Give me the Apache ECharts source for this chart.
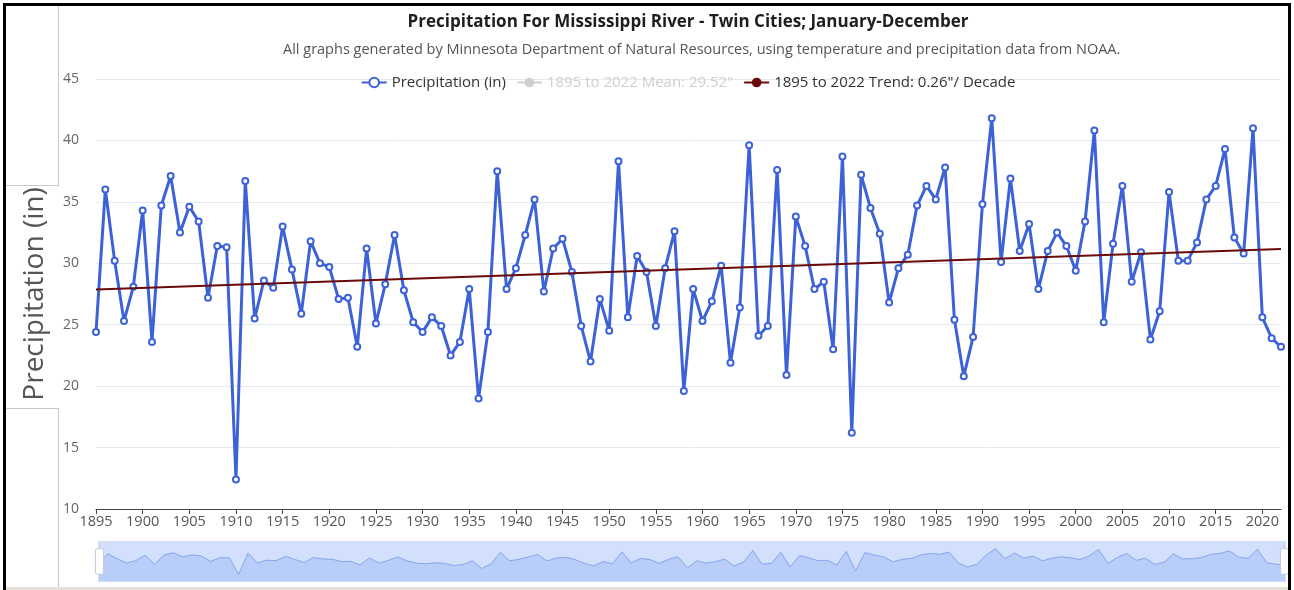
<!DOCTYPE html>
<html>
<head>
<meta charset="utf-8">
<script src="https://cdn.jsdelivr.net/npm/echarts@6/dist/echarts.min.js"></script>
<style>
html, body { margin: 0; padding: 0; background: #fff; overflow: hidden; }
#wrap { position: relative; width: 1294px; height: 590px; overflow: hidden; }
#chart { position: absolute; left: 0; top: 0; width: 1376px; height: 590px; }
.ink { position: absolute; background: #000; }
.rule { position: absolute; background: #c8c8c8; }
</style>
</head>
<body>
<div id="wrap">
  <div id="chart"></div>
  <div class="ink" style="left:3px;top:3px;width:3px;height:587px"></div>
  <div class="ink" style="left:3px;top:3px;width:1288px;height:3px"></div>
  <div class="ink" style="left:1288px;top:3px;width:3px;height:587px"></div>
  <div class="rule" style="left:58px;top:6px;width:1px;height:179px"></div>
  <div class="rule" style="left:6px;top:185px;width:53px;height:1px"></div>
  <div class="rule" style="left:6px;top:408px;width:53px;height:1px"></div>
  <div class="rule" style="left:58px;top:408px;width:1px;height:182px"></div>
  <div class="rule" style="left:6px;top:587px;width:1282px;height:3px;background:#e6e2da"></div>
</div>
<script>
// annual precipitation (in), 1895 .. 2022
var firstYear = 1895;
var precip = [
  24.4, 36.0, 30.2, 25.3, 28.1, 34.3, 23.6, 34.7, 37.1, 32.5,   // 1895-1904
  34.6, 33.4, 27.2, 31.4, 31.3, 12.4, 36.7, 25.5, 28.6, 28.0,   // 1905-1914
  33.0, 29.5, 25.9, 31.8, 30.0, 29.7, 27.1, 27.2, 23.2, 31.2,   // 1915-1924
  25.1, 28.3, 32.3, 27.8, 25.2, 24.4, 25.6, 24.9, 22.5, 23.6,   // 1925-1934
  27.9, 19.0, 24.4, 37.5, 27.9, 29.6, 32.3, 35.2, 27.7, 31.2,   // 1935-1944
  32.0, 29.3, 24.9, 22.0, 27.1, 24.5, 38.3, 25.6, 30.6, 29.3,   // 1945-1954
  24.9, 29.6, 32.6, 19.6, 27.9, 25.3, 26.9, 29.8, 21.9, 26.4,   // 1955-1964
  39.6, 24.1, 24.9, 37.6, 20.9, 33.8, 31.4, 27.9, 28.5, 23.0,   // 1965-1974
  38.7, 16.2, 37.2, 34.5, 32.4, 26.8, 29.6, 30.7, 34.7, 36.3,   // 1975-1984
  35.2, 37.8, 25.4, 20.8, 24.0, 34.8, 41.8, 30.1, 36.9, 31.0,   // 1985-1994
  33.2, 27.9, 31.0, 32.5, 31.4, 29.4, 33.4, 40.8, 25.2, 31.6,   // 1995-2004
  36.3, 28.5, 30.9, 23.8, 26.1, 35.8, 30.2, 30.2, 31.7, 35.2,   // 2005-2014
  36.3, 39.3, 32.1, 30.8, 41.0, 25.6, 23.9, 23.2                // 2015-2022
];
var meanEnds = [[1895, 29.52], [2022, 29.52]];
var trendEnds = [[1895, 27.87], [2022, 31.17]];
var yTicks = [10, 45, 5]; // min, max, step

var seriesNames = ['Precipitation (in)', '1895 to 2022 Mean: 29.52"', '1895 to 2022 Trend: 0.26"/ Decade'];

var points = precip.map(function(v, i) { return [firstYear + i, v]; });

var font = '"Open Sans", "Noto Sans", sans-serif';
var chart = echarts.init(document.getElementById('chart'));

var legendSel = {};
legendSel[seriesNames[1]] = false;

chart.setOption({
  animation: false,
  textStyle: { fontFamily: font },
  title: [{
    left: 'center',
    top: 9,
    text: 'Precipitation For Mississippi River - Twin Cities; January-December',
    textStyle: { fontFamily: font, fontSize: 17, fontWeight: 'bold', color: '#1e1e1e' }
  }, {
    left: 278,
    top: 37,
    text: 'All graphs generated by Minnesota Department of Natural Resources, using temperature and precipitation data from NOAA.',
    textStyle: { fontFamily: font, fontSize: 14.5, fontWeight: 'normal', color: '#555' }
  }],
  legend: {
    top: 70,
    left: 'center',
    itemWidth: 25,
    itemHeight: 12,
    itemGap: 10,
    selected: legendSel,
    inactiveColor: '#cfcfcf',
    textStyle: { fontFamily: font, fontSize: 15, color: '#333' },
    data: seriesNames
  },
  grid: { left: 96, right: 95, top: 79, bottom: 81 },
  xAxis: {
    type: 'value',
    min: 1895,
    max: 2022,
    interval: 5,
    axisLine: { lineStyle: { color: '#444' } },
    axisTick: { length: 5, lineStyle: { color: '#444' } },
    axisLabel: {
      color: '#555', fontSize: 14.5, margin: 5, showMaxLabel: false,
      formatter: function(v) { return String(v); }
    },
    splitLine: { show: false }
  },
  yAxis: {
    type: 'value',
    min: yTicks[0],
    max: yTicks[1],
    interval: yTicks[2],
    name: 'Precipitation (in)',
    nameLocation: 'middle',
    nameGap: 47,
    nameTextStyle: { fontFamily: font, fontSize: 28, color: '#555' },
    axisLine: { show: false },
    axisTick: { show: false },
    axisLabel: { color: '#666', fontSize: 14, margin: 17 },
    splitLine: { lineStyle: { color: '#e6e9ef' } }
  },
  dataZoom: [{
    type: 'slider',
    xAxisIndex: 0,
    left: 96,
    right: 93,
    top: 541,
    height: 41,
    showDetail: false,
    moveHandleSize: 0,
    borderColor: '#d3def5',
    fillerColor: 'rgba(125,165,242,0.34)',
    dataBackground: {
      lineStyle: { color: '#8fa9e8', width: 1 },
      areaStyle: { color: '#b4c8f4', opacity: 0.4 }
    },
    selectedDataBackground: {
      lineStyle: { color: '#88a4e8', width: 1 },
      areaStyle: { color: '#a4bcf2', opacity: 0.45 }
    }
  }],
  series: [
    {
      name: seriesNames[0],
      type: 'line',
      data: points,
      symbol: 'emptyCircle',
      symbolSize: 6,
      lineStyle: { color: '#3d62d8', width: 3 },
      itemStyle: { color: '#3d62d8', borderWidth: 1.5 },
      z: 3
    },
    {
      name: seriesNames[1],
      type: 'line',
      data: meanEnds,
      symbol: 'circle',
      showSymbol: false,
      lineStyle: { color: '#999', width: 2 },
      itemStyle: { color: '#999' }
    },
    {
      name: seriesNames[2],
      type: 'line',
      data: trendEnds,
      symbol: 'circle',
      showSymbol: false,
      lineStyle: { color: '#6a0a0a', width: 2 },
      itemStyle: { color: '#6a0a0a' },
      z: 4
    }
  ]
});
</script>
</body>
</html>
